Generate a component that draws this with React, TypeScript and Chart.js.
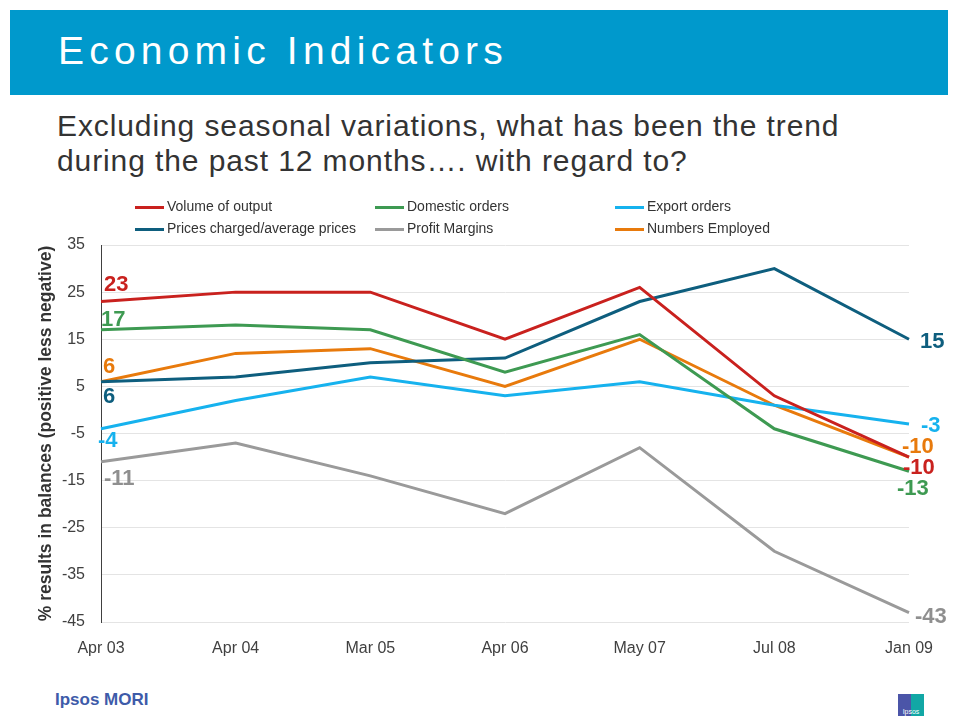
import React, { useEffect, useRef } from "react";
import { Chart, registerables } from "chart.js";

Chart.register(...registerables);

const categories = ["Apr 03", "Apr 04", "Mar 05", "Apr 06", "May 07", "Jul 08", "Jan 09"];
const seriesNames = [
  "Volume of output",
  "Domestic orders",
  "Export orders",
  "Prices charged/average prices",
  "Profit Margins",
  "Numbers Employed",
];
const volumeOfOutput = [23, 25, 25, 15, 26, 3, -10];
const domesticOrders = [17, 18, 17, 8, 16, -4, -13];
const exportOrders = [-4, 2, 7, 3, 6, 1, -3];
const pricesCharged = [6, 7, 10, 11, 23, 30, 15];
const profitMargins = [-11, -7, -14, -22, -8, -30, -43];
const numbersEmployed = [6, 12, 13, 5, 15, 1, -10];
const yTicks = { min: -45, max: 35, step: 10 };

const seriesColors = ["#c9211e", "#3e9a52", "#16b2ee", "#0e5e7e", "#9a9a9a", "#e87a0c"];
const labelColors = ["#c9211e", "#3e9a52", "#16b2ee", "#0e5e7e", "#8f8f8f", "#e87a0c"];
// end-label offsets (style only): [dx, dy] relative to first / last point, text left-aligned
const firstLabelOffsets = [[3, -17], [0, -10], [-3, 12], [2, 15], [3, 17], [2, -15]];
const lastLabelOffsets = [[-6, 11], [-12, 18], [12, 2], [11, 3], [6, 4], [-7, -10]];

const FONT = "'Liberation Sans', Arial, sans-serif";

export default function App() {
  const canvasRef = useRef<HTMLCanvasElement | null>(null);

  useEffect(() => {
    const canvas = canvasRef.current;
    if (!canvas) return;
    const allSeries = [volumeOfOutput, domesticOrders, exportOrders, pricesCharged, profitMargins, numbersEmployed];

    const legendPlugin = {
      id: "customLegend",
      afterDraw(chart: any) {
        const ctx = chart.ctx;
        ctx.save();
        chart.data.datasets.forEach((ds: any, i: number) => {
          const col = i % 3;
          const row = Math.floor(i / 3);
          const x = 135 + col * 240;
          const y = 17.5 + row * 22;
          ctx.strokeStyle = ds.borderColor;
          ctx.lineWidth = 3;
          ctx.beginPath();
          ctx.moveTo(x, y);
          ctx.lineTo(x + 29, y);
          ctx.stroke();
          ctx.fillStyle = "#333333";
          ctx.font = `14px ${FONT}`;
          ctx.textAlign = "left";
          ctx.textBaseline = "middle";
          ctx.fillText(ds.label, x + 32, y);
        });
        ctx.restore();
      },
    };

    const endLabelPlugin = {
      id: "endLabels",
      afterDatasetsDraw(chart: any) {
        const ctx = chart.ctx;
        ctx.save();
        ctx.font = `bold 22px ${FONT}`;
        ctx.textAlign = "left";
        ctx.textBaseline = "middle";
        chart.data.datasets.forEach((ds: any, i: number) => {
          const meta = chart.getDatasetMeta(i);
          const pts = meta.data;
          const first = pts[0];
          const last = pts[pts.length - 1];
          ctx.fillStyle = labelColors[i];
          const fo = firstLabelOffsets[i];
          const lo = lastLabelOffsets[i];
          ctx.fillText(String(ds.data[0]), first.x + fo[0], first.y + fo[1]);
          ctx.fillText(String(ds.data[ds.data.length - 1]), last.x + lo[0], last.y + lo[1]);
        });
        ctx.restore();
      },
    };

    const chart = new Chart(canvas, {
      type: "line",
      data: {
        labels: categories,
        datasets: seriesNames.map((name, i) => ({
          label: name,
          data: allSeries[i],
          borderColor: seriesColors[i],
          backgroundColor: seriesColors[i],
          borderWidth: 3,
          pointRadius: 0,
          tension: 0,
          fill: false,
        })),
      },
      options: {
        responsive: false,
        animation: false,
        devicePixelRatio: 1,
        layout: { padding: { top: 55, right: 51, left: 0, bottom: 0 } },
        plugins: {
          legend: { display: false },
          tooltip: { enabled: false },
        },
        scales: {
          x: {
            offset: false,
            grid: { display: false, drawTicks: false },
            border: { display: false },
            ticks: {
              color: "#404040",
              font: { family: FONT, size: 16 },
              padding: 17,
              maxRotation: 0,
              autoSkip: false,
            },
            afterFit: (s: any) => {
              s.height = 48;
            },
          },
          y: {
            min: yTicks.min,
            max: yTicks.max,
            ticks: {
              stepSize: yTicks.step,
              color: "#404040",
              font: { family: FONT, size: 16 },
              padding: 16,
            },
            grid: { color: "#e4e4e4", lineWidth: 1, drawTicks: false },
            border: { display: true, color: "#404040", width: 1 },
            title: {
              display: true,
              text: "% results in balances (positive less negative)",
              color: "#333333",
              font: { family: FONT, size: 17.5, weight: "bold" },
              padding: { top: 36, bottom: 0 },
            },
            afterFit: (s: any) => {
              s.width = 101;
            },
          },
        },
      },
      plugins: [legendPlugin, endLabelPlugin],
    });

    return () => chart.destroy();
  }, []);

  return (
    <div style={{ position: "absolute", left: 0, top: 0, width: 960, height: 716, background: "#ffffff", overflow: "hidden", fontFamily: FONT }}>
      <div style={{ position: "absolute", left: 10, top: 10, width: 938, height: 85, background: "#0099cc" }} />
      <div
        style={{
          position: "absolute",
          left: 58,
          top: 28,
          color: "#ffffff",
          fontSize: 39,
          letterSpacing: 5.2,
          lineHeight: "46px",
          whiteSpace: "nowrap",
        }}
      >
        Economic Indicators
      </div>
      <div
        style={{
          position: "absolute",
          left: 57,
          top: 108,
          color: "#333333",
          fontSize: 30,
          letterSpacing: 0.9,
          lineHeight: "35px",
          whiteSpace: "nowrap",
        }}
      >
        Excluding seasonal variations, what has been the trend
        <br />
        during the past 12 months…. with regard to?
      </div>
      <canvas ref={canvasRef} width={960} height={480} style={{ position: "absolute", left: 0, top: 190, width: 960, height: 480 }} />
      <div
        style={{
          position: "absolute",
          left: 55,
          top: 690,
          color: "#3e5ba9",
          fontSize: 17,
          fontWeight: "bold",
          whiteSpace: "nowrap",
        }}
      >
        Ipsos MORI
      </div>
      <div
        style={{
          position: "absolute",
          left: 898,
          top: 694,
          width: 26,
          height: 22,
          background: "linear-gradient(90deg, #4b55a8 0%, #4b55a8 50%, #12a7a5 50%, #12a7a5 100%)",
          color: "#ffffff",
          fontSize: 7,
          lineHeight: "7px",
          textAlign: "center",
          paddingTop: 14,
          boxSizing: "border-box",
        }}
      >
        Ipsos
      </div>
    </div>
  );
}
